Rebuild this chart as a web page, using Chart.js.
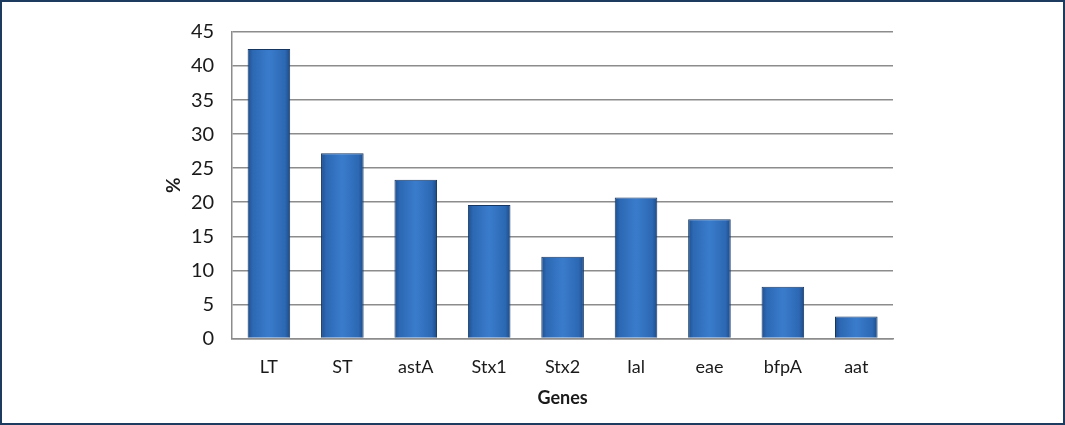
<!DOCTYPE html>
<html>
<head>
<meta charset="utf-8">
<script src="https://cdn.jsdelivr.net/npm/chart.js@4"></script>
<style>
  html, body { margin: 0; padding: 0; background: #fff; }
  #frame { position: absolute; left: 0; top: 0; width: 1061px; height: 421px; border: 2px solid #1c3b5e; }
  #chart { display: block; }
</style>
</head>
<body>
<div id="frame"><canvas id="chart" width="1061" height="421"></canvas></div>
<script>
// data
const genes = ['LT', 'ST', 'astA', 'Stx1', 'Stx2', 'Ial', 'eae', 'bfpA', 'aat'];
const percent = [42.5, 27.2, 23.3, 19.6, 12.0, 20.7, 17.5, 7.6, 3.2];
const yTicks = [0, 5, 10, 15, 20, 25, 30, 35, 40, 45];

// horizontal shading for each bar, darker at the edges
function barFill(ctx) {
    const chart = ctx.chart;
    const x = chart.scales.x;
    if (!chart.chartArea || !x) return '#2f6fbf';
    const center = x.getPixelForValue(ctx.dataIndex);
    const half = x.width / genes.length * 0.58 / 2;
    const g = chart.ctx.createLinearGradient(center - half, 0, center + half, 0);
    g.addColorStop(0, '#1f4f8f');
    g.addColorStop(0.12, '#2c68b3');
    g.addColorStop(0.5, '#3a7ccc');
    g.addColorStop(0.88, '#2c68b3');
    g.addColorStop(1, '#1d4a86');
    return g;
}

const ch = document.getElementById('chart');
const barChart = new Chart(ch, {
    type: 'bar',
    data: {
        labels: genes,
        datasets: [{
            label: '%',
            data: percent,
            backgroundColor: barFill,
            borderColor: '#17365f',
            borderWidth: 1,
            categoryPercentage: 1,
            barPercentage: 0.58
        }]
    },
    options: {
        responsive: false,
        animation: false,
        layout: { padding: { left: 162, right: 170, top: 26, bottom: 16 } },
        plugins: {
            legend: { display: false },
            tooltip: { enabled: false }
        },
        scales: {
            x: {
                grid: { display: false, drawTicks: false },
                border: { display: true, color: '#8c8c8c', width: 1.5 },
                ticks: { color: '#1a1a1a', padding: 18, font: { family: 'Lato', size: 18 } },
                title: { display: true, text: 'Genes', color: '#1a1a1a', padding: { top: -7, bottom: 0 },
                         font: { family: 'Lato', size: 18, weight: 'bold', lineHeight: 1 } }
            },
            y: {
                min: 0,
                max: 45,
                afterBuildTicks: function (axis) { axis.ticks = yTicks.map(v => ({ value: v })); },
                grid: { color: '#8c8c8c', lineWidth: 1.5, drawTicks: false },
                border: { display: true, color: '#8c8c8c', width: 1.5 },
                ticks: { color: '#1a1a1a', padding: 18, font: { family: 'Lato', size: 20 } },
                title: { display: true, text: '%', color: '#1a1a1a', padding: { top: 0, bottom: -10 },
                         font: { family: 'Lato', size: 19, weight: 'bold', lineHeight: 1 } }
            }
        }
    }
});
</script>
</body>
</html>
